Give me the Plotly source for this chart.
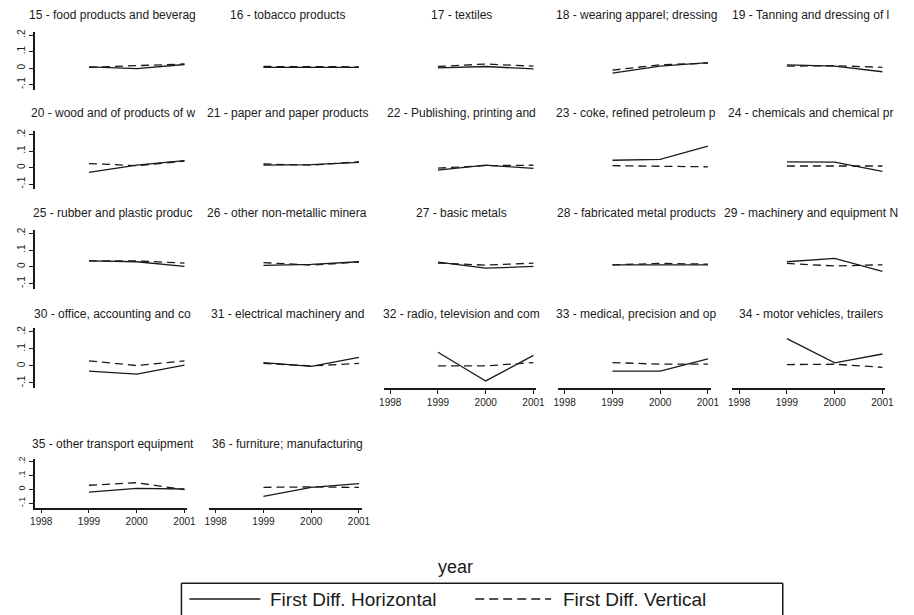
import plotly.graph_objects as go

# ---------------- data ----------------
years = [1999, 2000, 2001]
x_ticks = [1998, 1999, 2000, 2001]
y_ticks = [-0.1, 0.0, 0.1, 0.2]
y_tick_labels = ["-.1", "0", ".1", ".2"]

panel_titles = [
    "15 - food products and beverag", "16 - tobacco products", "17 - textiles",
    "18 - wearing apparel; dressing", "19 - Tanning and dressing of l",
    "20 - wood and of products of w", "21 - paper and paper products",
    "22 - Publishing, printing and", "23 - coke, refined petroleum p",
    "24 - chemicals and chemical pr",
    "25 - rubber and plastic produc", "26 - other non-metallic minera",
    "27 - basic metals", "28 - fabricated metal products",
    "29 - machinery and equipment N",
    "30 - office, accounting and co", "31 - electrical machinery and",
    "32 - radio, television and com", "33 - medical, precision and op",
    "34 - motor vehicles, trailers",
    "35 - other transport equipment", "36 - furniture; manufacturing",
]

first_diff_horizontal = [
    [0.008, -0.003, 0.022], [0.005, 0.006, 0.005], [0.002, 0.010, -0.005],
    [-0.030, 0.012, 0.033], [0.020, 0.012, -0.022],
    [-0.028, 0.015, 0.042], [0.015, 0.018, 0.032], [-0.015, 0.015, -0.005],
    [0.045, 0.050, 0.130], [0.035, 0.033, -0.022],
    [0.035, 0.030, 0.003], [0.008, 0.015, 0.030], [0.028, -0.008, 0.002],
    [0.012, 0.010, 0.012], [0.030, 0.050, -0.028],
    [-0.030, -0.048, 0.005], [0.020, -0.002, 0.050], [0.080, -0.088, 0.062],
    [-0.030, -0.030, 0.042], [0.160, 0.018, 0.070],
    [-0.020, 0.008, 0.003], [-0.050, 0.015, 0.042],
]

first_diff_vertical = [
    [0.005, 0.015, 0.025], [0.010, 0.010, 0.008], [0.010, 0.025, 0.012],
    [-0.012, 0.020, 0.030], [0.012, 0.015, 0.005],
    [0.025, 0.012, 0.040], [0.022, 0.015, 0.036], [-0.003, 0.012, 0.015],
    [0.012, 0.010, 0.005], [0.010, 0.010, 0.010],
    [0.035, 0.035, 0.022], [0.025, 0.010, 0.028], [0.022, 0.010, 0.022],
    [0.012, 0.020, 0.016], [0.020, 0.005, 0.012],
    [0.030, 0.002, 0.030], [0.015, 0.000, 0.015], [0.000, 0.000, 0.020],
    [0.020, 0.010, 0.010], [0.008, 0.010, -0.008],
    [0.030, 0.048, -0.002], [0.015, 0.018, 0.014],
]

legend_labels = ["First Diff. Horizontal", "First Diff. Vertical"]
x_axis_title = "year"

# ---------------- layout geometry ----------------
W, H = 914, 615
FONT = "Liberation Sans, Arial, sans-serif"
INK = "#1a1a1a"
col_left = [31, 208, 385, 562, 739]
col_width = 155
row_bounds = [(29, 87), (129, 187), (228, 287), (327, 387), (458, 507)]
row_ytick_size = [10, 10, 10, 10, 9]
title_y = [12, 111, 211, 313, 443]


def px_x(v):
    return v / W


def px_y(v):
    return 1 - v / H


fig = go.Figure()
layout = dict(
    width=W, height=H,
    margin=dict(l=0, r=0, t=0, b=0),
    paper_bgcolor="white", plot_bgcolor="white",
    showlegend=False,
    font=dict(family=FONT, color=INK),
)
annotations = []
shapes = []

n = len(panel_titles)
for i in range(n):
    r, c = divmod(i, 5)
    k = i + 1
    xa = "x" if k == 1 else f"x{k}"
    ya = "y" if k == 1 else f"y{k}"
    xkey = "xaxis" if k == 1 else f"xaxis{k}"
    ykey = "yaxis" if k == 1 else f"yaxis{k}"
    top, bot = row_bounds[r]
    left = col_left[c]
    bottom_panel = (r == 4) or (r == 3 and c >= 2)
    left_panel = c == 0

    fig.add_trace(go.Scatter(
        x=years, y=first_diff_horizontal[i], mode="lines",
        name=legend_labels[0], xaxis=xa, yaxis=ya,
        line=dict(color=INK, width=1.3),
    ))
    fig.add_trace(go.Scatter(
        x=years, y=first_diff_vertical[i], mode="lines",
        name=legend_labels[1], xaxis=xa, yaxis=ya,
        line=dict(color=INK, width=1.3, dash="8px,5px"),
    ))

    layout[xkey] = dict(
        domain=[px_x(left), px_x(left + col_width)],
        anchor=ya, range=[1997.86, 2001.06],
        showgrid=False, zeroline=False,
        showline=bottom_panel, linecolor=INK, linewidth=1.5,
        ticks="outside" if bottom_panel else "", ticklen=4, tickwidth=1.3,
        tickcolor=INK,
        tickvals=x_ticks if bottom_panel else [],
        ticktext=[str(t) for t in x_ticks] if bottom_panel else [],
        showticklabels=bottom_panel,
        tickfont=dict(size=10, family=FONT, color=INK),
        fixedrange=True,
    )
    layout[ykey] = dict(
        domain=[px_y(bot), px_y(top)],
        anchor=xa, range=[-0.13, 0.22],
        showgrid=False, zeroline=False,
        showline=left_panel, linecolor=INK, linewidth=1.5,
        ticks="outside" if left_panel else "", ticklen=4, tickwidth=1.3,
        tickcolor=INK,
        tickvals=y_ticks if left_panel else [],
        ticktext=y_tick_labels if left_panel else [],
        showticklabels=left_panel, tickangle=-90,
        tickfont=dict(size=row_ytick_size[r], family=FONT, color=INK),
        fixedrange=True,
    )
    annotations.append(dict(
        text=panel_titles[i], xref="paper", yref="paper",
        x=px_x(left + col_width / 2 + 2), y=px_y(title_y[r]),
        xanchor="center", yanchor="middle", showarrow=False,
        font=dict(size=12, family=FONT, color=INK),
    ))

# x-axis title
annotations.append(dict(
    text=x_axis_title, xref="paper", yref="paper",
    x=px_x(458), y=px_y(567), xanchor="center", yanchor="middle",
    showarrow=False, font=dict(size=18, family=FONT, color=INK),
))

# legend box (bottom edge is outside the picture, as in the reference)
box_l, box_r, box_t = 180, 790, 583
for x0, y0, x1, y1 in [(box_l, box_t, box_r, box_t),
                       (box_l, box_t, box_l, H + 20),
                       (box_r, box_t, box_r, H + 20)]:
    shapes.append(dict(type="line", xref="paper", yref="paper",
                       x0=px_x(x0), y0=px_y(y0), x1=px_x(x1), y1=px_y(y1),
                       line=dict(color=INK, width=1.5)))
key_y = 599
shapes.append(dict(type="line", xref="paper", yref="paper",
                   x0=px_x(188), x1=px_x(260), y0=px_y(key_y), y1=px_y(key_y),
                   line=dict(color=INK, width=1.5)))
shapes.append(dict(type="line", xref="paper", yref="paper",
                   x0=px_x(478), x1=px_x(555), y0=px_y(key_y), y1=px_y(key_y),
                   line=dict(color=INK, width=1.5, dash="9px,5px")))
annotations.append(dict(
    text=legend_labels[0], xref="paper", yref="paper",
    x=px_x(268), y=px_y(key_y), xanchor="left", yanchor="middle",
    showarrow=False, font=dict(size=19, family=FONT, color=INK),
))
annotations.append(dict(
    text=legend_labels[1], xref="paper", yref="paper",
    x=px_x(565), y=px_y(key_y), xanchor="left", yanchor="middle",
    showarrow=False, font=dict(size=19, family=FONT, color=INK),
))

layout["annotations"] = annotations
layout["shapes"] = shapes
fig.update_layout(**layout)
fig.write_html(
    "out.html",
    config={"displayModeBar": False},
    post_script="document.body.style.margin='0';document.body.style.overflow='hidden';",
)
